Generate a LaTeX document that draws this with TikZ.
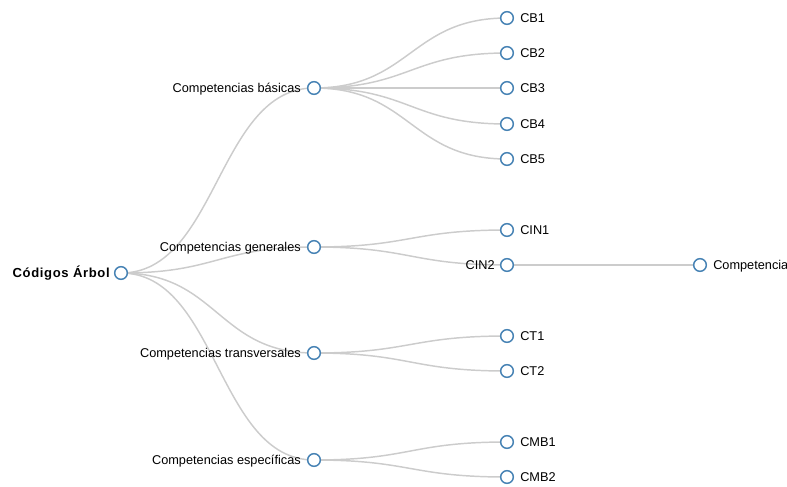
\documentclass[tikz,border=0pt]{standalone}
\usepackage{fontspec}
\setmainfont{Liberation Sans}
\newfontfamily\rootfont[LetterSpace=5]{Liberation Sans Bold}
\usetikzlibrary{calc,backgrounds}
\definecolor{steel}{HTML}{4682B4}
\definecolor{linkgray}{HTML}{CCCCCC}
\tikzset{
  treenode/.style={circle, draw=steel, fill=white, line width=1.1pt, minimum size=9.5pt, inner sep=0pt},
  link/.style={draw=linkgray, line width=1.1pt},
  rtext/.style={anchor=base west, inner sep=0pt, font=\fontsize{9.55}{10}\selectfont},
  ltext/.style={anchor=base east, inner sep=0pt, font=\fontsize{9.55}{10}\selectfont},
}
\begin{document}
\begin{tikzpicture}[x=0.75pt,y=-0.75pt]
\useasboundingbox (0,0) rectangle (787,486);
% nodes
\node[treenode] (root) at (121,273) {};
\node[treenode] (cb) at (314,88) {};
\node[treenode] (cg) at (314,247) {};
\node[treenode] (ct) at (314,353) {};
\node[treenode] (ce) at (314,460) {};
\node[treenode] (cb1) at (507,18) {};
\node[treenode] (cb2) at (507,53) {};
\node[treenode] (cb3) at (507,88) {};
\node[treenode] (cb4) at (507,124) {};
\node[treenode] (cb5) at (507,159) {};
\node[treenode] (cin1) at (507,230) {};
\node[treenode] (cin2) at (507,265) {};
\node[treenode] (ct1) at (507,336) {};
\node[treenode] (ct2) at (507,371) {};
\node[treenode] (cmb1) at (507,442) {};
\node[treenode] (cmb2) at (507,477) {};
\node[treenode] (comp) at (700,265) {};
% labels
\node[ltext, font=\fontsize{9.8}{10}\rootfont] (troot) at ($(root)+(-11,4.2)$) {Códigos Árbol};
\node[ltext] (tcb) at ($(cb)+(-13,4.2)$) {Competencias básicas};
\node[ltext] (tcg) at ($(cg)+(-13,4.2)$) {Competencias generales};
\node[ltext] (tct) at ($(ct)+(-13,4.2)$) {Competencias transversales};
\node[ltext] (tce) at ($(ce)+(-13,4.2)$) {Competencias específicas};
\node[rtext] (tcb1) at ($(cb1)+(13,4.2)$) {CB1};
\node[rtext] (tcb2) at ($(cb2)+(13,4.2)$) {CB2};
\node[rtext] (tcb3) at ($(cb3)+(13,4.2)$) {CB3};
\node[rtext] (tcb4) at ($(cb4)+(13,4.2)$) {CB4};
\node[rtext] (tcb5) at ($(cb5)+(13,4.2)$) {CB5};
\node[rtext] (tcin1) at ($(cin1)+(13,4.2)$) {CIN1};
\node[ltext] (tcin2) at ($(cin2)+(-12,4.2)$) {CIN2};
\node[rtext] (tct1) at ($(ct1)+(13,4.2)$) {CT1};
\node[rtext] (tct2) at ($(ct2)+(13,4.2)$) {CT2};
\node[rtext] (tcmb1) at ($(cmb1)+(13,4.2)$) {CMB1};
\node[rtext] (tcmb2) at ($(cmb2)+(13,4.2)$) {CMB2};
\node[rtext] (tcomp) at ($(comp)+(13,4.2)$) {Competencia};
% links
\begin{pgfonlayer}{background}
\foreach \a/\b in {root/cb,root/cg,root/ct,root/ce,
  cb/cb1,cb/cb2,cb/cb3,cb/cb4,cb/cb5,cg/cin1,cg/cin2,ct/ct1,ct/ct2,ce/cmb1,ce/cmb2,cin2/comp}
  \draw[link] (\a.center) .. controls +(96.5,0) and +(-96.5,0) .. (\b.center);
\end{pgfonlayer}
\end{tikzpicture}
\end{document}
